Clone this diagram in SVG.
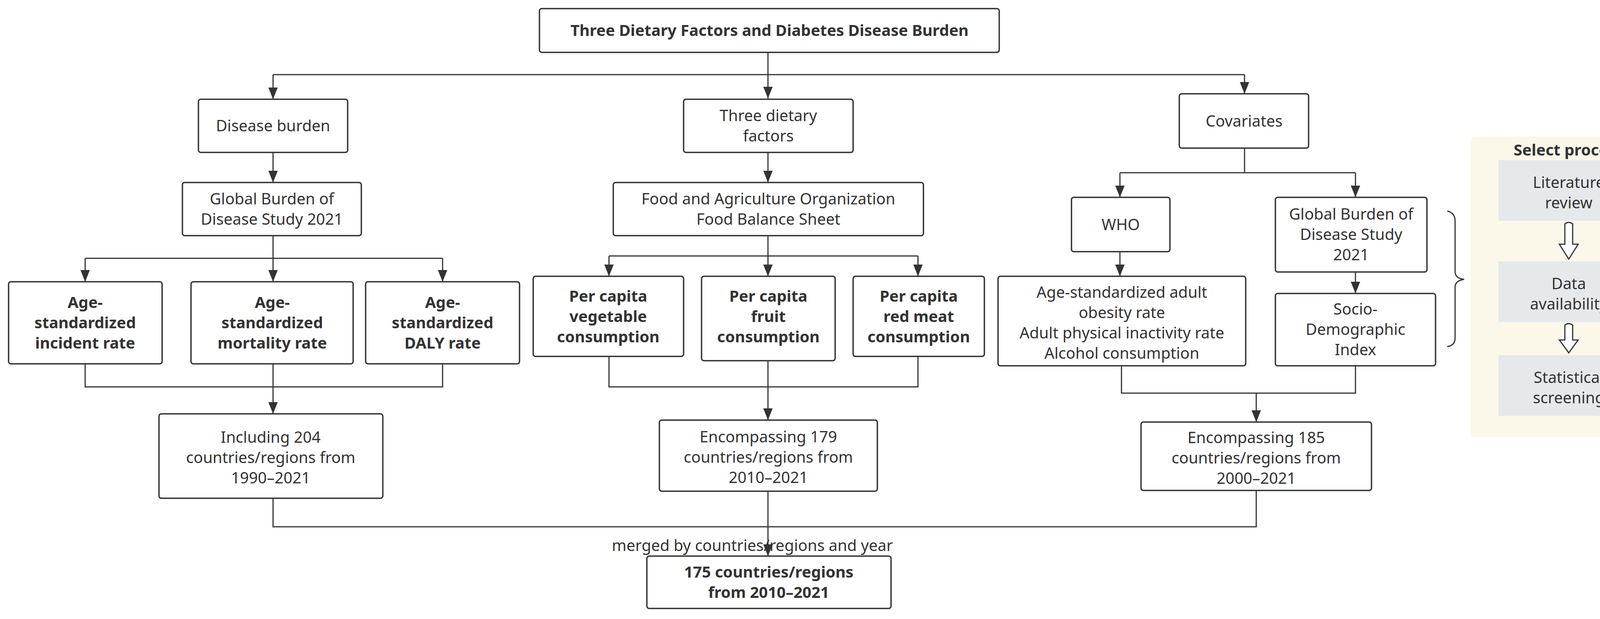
<svg xmlns="http://www.w3.org/2000/svg" width="4279" height="1584" viewBox="0 0 4279 1584">
<defs>
<marker id="ah" markerWidth="30" markerHeight="24" refX="30" refY="12" orient="auto" markerUnits="userSpaceOnUse" viewBox="0 0 30 24"><path d="M0,0 L30,12 L0,24 Z" fill="#333"/></marker>
<style>
.b{fill:#fff;stroke:#333;stroke-width:3.5}
.t{font-family:"Noto Sans","Open Sans",sans-serif;font-size:40px;fill:#333;text-anchor:middle}
.tb{font-weight:bold}
.c{fill:none;stroke:#333;stroke-width:3}
.g{fill:#e5e9ec}
</style>
</defs>
<rect width="4279" height="1584" fill="#fff"/>
<g id="connectors">
<path class="c" d="M1966,134 V252" marker-end="url(#ah)"/>
<path class="c" d="M699,191 H3186"/>
<path class="c" d="M699,191 V254" marker-end="url(#ah)"/>
<path class="c" d="M3186,191 V240" marker-end="url(#ah)"/>
<path class="c" d="M699,390 V467" marker-end="url(#ah)"/>
<path class="c" d="M1966,390 V467" marker-end="url(#ah)"/>
<path class="c" d="M3186,379 V442 M2867,442 H3470"/>
<path class="c" d="M2867,442 V505" marker-end="url(#ah)"/>
<path class="c" d="M3470,442 V505" marker-end="url(#ah)"/>
<path class="c" d="M699,603 V721" marker-end="url(#ah)"/>
<path class="c" d="M218,661 H1133"/>
<path class="c" d="M218,661 V721" marker-end="url(#ah)"/>
<path class="c" d="M1133,661 V721" marker-end="url(#ah)"/>
<path class="c" d="M1966,603 V707" marker-end="url(#ah)"/>
<path class="c" d="M1559,655 H2350"/>
<path class="c" d="M1559,655 V707" marker-end="url(#ah)"/>
<path class="c" d="M2350,655 V707" marker-end="url(#ah)"/>
<path class="c" d="M2867,644 V707" marker-end="url(#ah)"/>
<path class="c" d="M3470,696 V751" marker-end="url(#ah)"/>
<path class="c" d="M218,931 V990 H1133 V931"/>
<path class="c" d="M699,931 V1059" marker-end="url(#ah)"/>
<path class="c" d="M1559,912 V990 H2350 V912"/>
<path class="c" d="M1966,923 V1075" marker-end="url(#ah)"/>
<path class="c" d="M2871,936 V1006 H3470 V936"/>
<path class="c" d="M3216,1006 V1080" marker-end="url(#ah)"/>
<path class="c" d="M699,1275 V1348 H3216 V1255"/>
<path class="c" d="M1966,1257 V1423" marker-end="url(#ah)"/>
<path class="c" d="M3705,540 Q3725,545 3725,565 V695 Q3725,712 3748,715 Q3725,718 3725,735 V865 Q3725,884 3705,887"/>
</g>
<g id="title"><rect class="b" x="1381" y="22" width="1177" height="112" rx="6"/><text class="t tb" x="1970" y="92">Three Dietary Factors and Diabetes Disease Burden</text></g>
<g id="disease-burden"><rect class="b" x="508" y="254" width="382" height="136" rx="6"/><text class="t" x="699" y="336">Disease burden</text></g>
<g id="dietary"><rect class="b" x="1750" y="254" width="434" height="136" rx="6"/><text class="t" x="1967" y="310">Three dietary</text><text class="t" x="1967" y="362">factors</text></g>
<g id="covariates"><rect class="b" x="3019" y="240" width="331" height="139" rx="6"/><text class="t" x="3185" y="324">Covariates</text></g>
<g id="gbd"><rect class="b" x="467" y="467" width="458" height="136" rx="6"/><text class="t" x="696" y="523">Global Burden of</text><text class="t" x="696" y="575">Disease Study 2021</text></g>
<g id="fao"><rect class="b" x="1570" y="467" width="794" height="136" rx="6"/><text class="t" x="1967" y="523">Food and Agriculture Organization</text><text class="t" x="1967" y="575">Food Balance Sheet</text></g>
<g id="who"><rect class="b" x="2743" y="505" width="252" height="139" rx="6"/><text class="t" x="2869" y="589">WHO</text></g>
<g id="gbd2"><rect class="b" x="3265" y="505" width="388" height="191" rx="6"/><text class="t" x="3459" y="562">Global Burden of</text><text class="t" x="3459" y="614">Disease Study</text><text class="t" x="3459" y="666">2021</text></g>
<g id="incident"><rect class="b" x="22" y="721" width="393" height="210" rx="6"/><text class="t tb" x="218" y="788">Age-</text><text class="t tb" x="218" y="840">standardized</text><text class="t tb" x="218" y="892">incident rate</text></g>
<g id="mortality"><rect class="b" x="489" y="721" width="415" height="210" rx="6"/><text class="t tb" x="697" y="788">Age-</text><text class="t tb" x="697" y="840">standardized</text><text class="t tb" x="697" y="892">mortality rate</text></g>
<g id="daly"><rect class="b" x="936" y="721" width="394" height="210" rx="6"/><text class="t tb" x="1133" y="788">Age-</text><text class="t tb" x="1133" y="840">standardized</text><text class="t tb" x="1133" y="892">DALY rate</text></g>
<g id="veg"><rect class="b" x="1365" y="707" width="385" height="205" rx="6"/><text class="t tb" x="1557" y="772">Per capita</text><text class="t tb" x="1557" y="824">vegetable</text><text class="t tb" x="1557" y="876">consumption</text></g>
<g id="fruit"><rect class="b" x="1796" y="707" width="342" height="216" rx="6"/><text class="t tb" x="1967" y="772">Per capita</text><text class="t tb" x="1967" y="824">fruit</text><text class="t tb" x="1967" y="876">consumption</text></g>
<g id="meat"><rect class="b" x="2184" y="707" width="336" height="205" rx="6"/><text class="t tb" x="2352" y="772">Per capita</text><text class="t tb" x="2352" y="824">red meat</text><text class="t tb" x="2352" y="876">consumption</text></g>
<g id="who-items"><rect class="b" x="2555" y="707" width="634" height="229" rx="6"/><text class="t" x="2872" y="762">Age-standardized adult</text><text class="t" x="2872" y="814">obesity rate</text><text class="t" x="2872" y="866">Adult physical inactivity rate</text><text class="t" x="2872" y="918">Alcohol consumption</text></g>
<g id="sdi"><rect class="b" x="3265" y="751" width="410" height="185" rx="6"/><text class="t" x="3470" y="805">Socio-</text><text class="t" x="3470" y="857">Demographic</text><text class="t" x="3470" y="909">Index</text></g>
<g id="inc204"><rect class="b" x="407" y="1059" width="573" height="216" rx="6"/><text class="t" x="693" y="1133">Including 204</text><text class="t" x="693" y="1185">countries/regions from</text><text class="t" x="693" y="1237">1990–2021</text></g>
<g id="enc179"><rect class="b" x="1688" y="1075" width="558" height="182" rx="6"/><text class="t" x="1967" y="1132">Encompassing 179</text><text class="t" x="1967" y="1184">countries/regions from</text><text class="t" x="1967" y="1236">2010–2021</text></g>
<g id="enc185"><rect class="b" x="2921" y="1080" width="590" height="175" rx="6"/><text class="t" x="3216" y="1134">Encompassing 185</text><text class="t" x="3216" y="1186">countries/regions from</text><text class="t" x="3216" y="1238">2000–2021</text></g>
<text class="t" x="1926" y="1410">merged by countries/regions and year</text>
<g id="final"><rect class="b" x="1656" y="1423" width="625" height="134" rx="6"/><text class="t tb" x="1968" y="1478">175 countries/regions</text><text class="t tb" x="1968" y="1530">from 2010–2021</text></g>
<g id="select-process">
<rect x="3765" y="349" width="502" height="770" rx="10" fill="#fbf8ea"/>
<text class="t tb" x="4016" y="398">Select process</text>
<rect class="g" x="3836" y="410" width="360" height="155"/><text class="t" x="4016" y="481">Literature</text><text class="t" x="4016" y="533">review</text>
<path d="M4006,573 Q4016,565 4026,573 V625 H4040 L4016,663 L3992,625 H4006 Z" fill="#fff" stroke="#333" stroke-width="3"/>
<rect class="g" x="3836" y="669" width="360" height="155"/><text class="t" x="4016" y="740">Data</text><text class="t" x="4016" y="792">availability</text>
<path d="M4006,832 Q4016,824 4026,832 V870 H4040 L4016,903 L3992,870 H4006 Z" fill="#fff" stroke="#333" stroke-width="3"/>
<rect class="g" x="3836" y="909" width="360" height="155"/><text class="t" x="4016" y="980">Statistical</text><text class="t" x="4016" y="1032">screening</text>
</g>
</svg>
